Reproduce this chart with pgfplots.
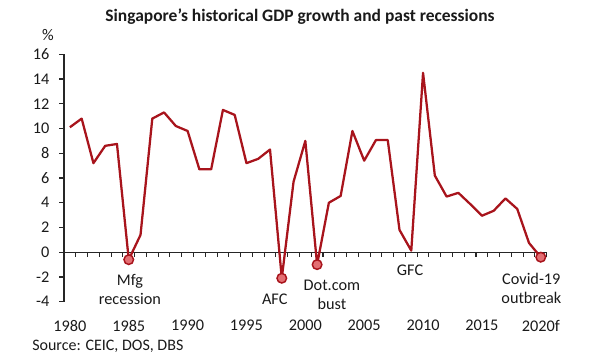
\documentclass[border=0pt]{standalone}
\usepackage{pgfplots}
\pgfplotsset{compat=1.18}
\usepackage{fontspec}
\setmainfont{Carlito}
\definecolor{linered}{HTML}{A8141C}
\definecolor{markfill}{HTML}{E36F73}
\definecolor{txt}{HTML}{1A1A1A}
\begin{document}
\begin{tikzpicture}
\path[use as bounding box] (-48pt,-43.7pt) rectangle ++(450pt,270pt);
\begin{axis}[
  at={(0,0)}, anchor=south west,
  scale only axis,
  width=362pt, height=185.6pt,
  xmin=1979.5, xmax=2020.5,
  ymin=-4, ymax=16,
  axis x line=middle,
  axis y line=none,
  x axis line style={-, draw=black!85, line width=0.8pt},
  xtick={1979.5,1980.5,1981.5,1982.5,1983.5,1984.5,1985.5,1986.5,1987.5,1988.5,1989.5,1990.5,1991.5,1992.5,1993.5,1994.5,1995.5,1996.5,1997.5,1998.5,1999.5,2000.5,2001.5,2002.5,2003.5,2004.5,2005.5,2006.5,2007.5,2008.5,2009.5,2010.5,2011.5,2012.5,2013.5,2014.5,2015.5,2016.5,2017.5,2018.5,2019.5,2020.5},
  xticklabels={},
  xtick align=outside,
  major tick length=3.3pt,
  xtick style={draw=black!85, line width=0.8pt},
]
\end{axis}
\begin{axis}[
  at={(0,0)}, anchor=south west,
  scale only axis,
  width=362pt, height=185.6pt,
  xmin=1979.5, xmax=2020.5,
  ymin=-4, ymax=16,
  ytick={-4,-2,...,16},
  xtick={1980,1985,...,2020},
  xticklabels={1980,1985,1990,1995,2000,2005,2010,2015,2020f},
  axis x line*=bottom,
  axis y line*=left,
  x axis line style={draw=none},
  y axis line style={draw=black!85, line width=0.8pt},
  xtick style={draw=none},
  ytick style={draw=black!85, line width=0.8pt},
  tick align=outside,
  major tick length=3.5pt,
  /pgf/number format/assume math mode=true,
  tick label style={font=\fontsize{12.2}{14}\selectfont, text=txt},
  xticklabel style={yshift=-7pt},
  yticklabel style={xshift=-4pt},
  clip=false,
]
\addplot[linered, line width=1.7pt, line join=round] coordinates {
(1980,10.1) (1981,10.8) (1982,7.2) (1983,8.6) (1984,8.75) (1985,-0.6)
(1986,1.4) (1987,10.8) (1988,11.3) (1989,10.2) (1990,9.8) (1991,6.7)
(1992,6.7) (1993,11.5) (1994,11.1) (1995,7.2) (1996,7.55) (1997,8.3)
(1998,-2.1) (1999,5.7) (2000,9.0) (2001,-1.0) (2002,4.0) (2003,4.55)
(2004,9.8) (2005,7.4) (2006,9.07) (2007,9.07) (2008,1.8) (2009,0.13)
(2010,14.5) (2011,6.2) (2012,4.5) (2013,4.8) (2014,3.9) (2015,2.95)
(2016,3.35) (2017,4.35) (2018,3.5) (2019,0.75) (2020,-0.4)
};
\addplot[only marks, mark=*, mark size=3.6pt,
  mark options={fill=markfill, draw=linered, line width=1.1pt}] coordinates {
(1985,-0.6) (1998,-2.1) (2001,-1.0) (2020,-0.4)
};
\begin{scope}[every node/.style={font=\fontsize{12.2}{14.2}\selectfont, text=txt, align=center}]
\node at (axis cs:1985.1,-3.0) {Mfg\\recession};
\node at (axis cs:1997.4,-3.77) {AFC};
\node at (axis cs:2002.26,-3.45) {Dot.com\\bust};
\node at (axis cs:2008.9,-1.49) {GFC};
\node at (axis cs:2019.2,-2.9) {Covid-19\\outbreak};
\end{scope}
\end{axis}
\node[font=\fontsize{13.1}{15}\selectfont\bfseries, text=txt] at (177pt,213.5pt) {Singapore's historical GDP growth and past recessions};
\node[font=\fontsize{12.2}{14}\selectfont, text=txt] at (-12pt,200pt) {\%};
\node[font=\fontsize{12}{14}\selectfont, text=txt, anchor=west, inner sep=0pt] at (-24pt,-33.2pt) {Source: CEIC, DOS, DBS};
\end{tikzpicture}
\end{document}
